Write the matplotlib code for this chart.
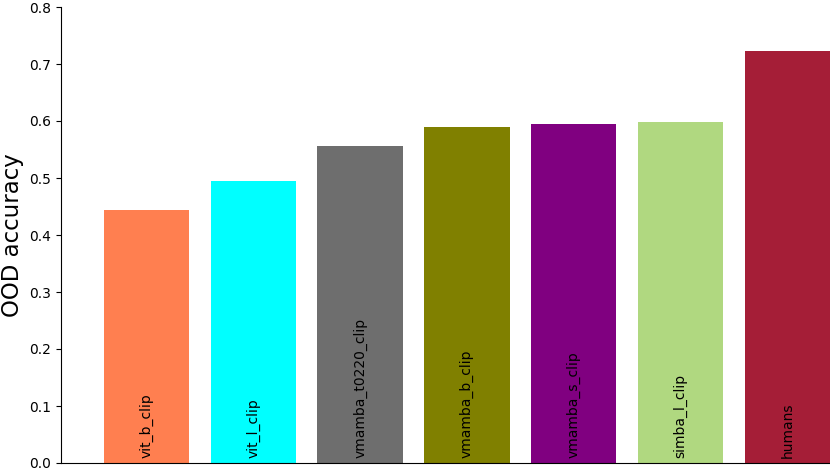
import numpy as np
import matplotlib
matplotlib.use("Agg")
import matplotlib.pyplot as plt

models = ["vit_b_clip", "vit_l_clip", "vmamba_t0220_clip", "vmamba_b_clip",
          "vmamba_s_clip", "simba_l_clip", "humans"]
ood_acc = [0.444, 0.495, 0.556, 0.589, 0.594, 0.599, 0.723]
colors = ["#ff7f50", "#00ffff", "#6e6e6e", "#808000", "#800080", "#b0d880", "#a51e37"]

fig = plt.figure(figsize=(8.3, 4.7), dpi=100)
ax = fig.add_axes([61 / 830, 7 / 470, 769 / 830, 456 / 470])

x = np.arange(len(models))
ax.bar(x, ood_acc, width=0.8, color=colors)
for i, name in enumerate(models):
    ax.text(i, 0.008, name, rotation=90, ha="center", va="bottom", fontsize=10)

ax.set_xlim(-0.8, 6.4)
ax.set_ylim(0, 0.8)
ax.set_xticks([])
ax.set_yticks(np.arange(0, 0.81, 0.1))
ax.set_yticklabels(["%.1f" % v for v in np.arange(0, 0.81, 0.1)], fontsize=10)
ax.set_ylabel("OOD accuracy", fontsize=16.5)
ax.spines["top"].set_visible(False)
ax.spines["right"].set_visible(False)

fig.savefig("out.png")
